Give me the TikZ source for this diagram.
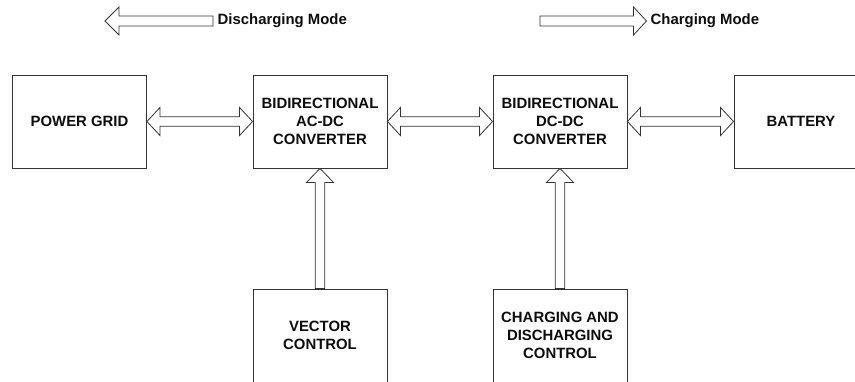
\documentclass[tikz,border=0pt]{standalone}
\usepackage{fontspec}
\setmainfont{Liberation Sans}
\usetikzlibrary{calc}
\tikzset{
  blockbox/.style={draw=black!80, line width=0.9pt, minimum width=134pt, minimum height=93pt, inner sep=0pt, align=center, font=\fontsize{14.9}{17.8}\selectfont\bfseries, text=black!95},
  modelabel/.style={inner sep=2pt, anchor=west, font=\fontsize{14.9}{17}\selectfont\bfseries, text=black!95},
  fatarrow/.style={draw=black!80, line width=0.8pt, fill=white, line join=miter}
}
\newcommand\hdarrow[2]{%
  \draw[fatarrow] (#1) -- ++(13,-14) -- ++(0,9.3) -- ($(#2)+(-13,-4.7)$) -- ++(0,-9.3) -- (#2)
   -- ++(-13,14) -- ++(0,-9.3) -- ($(#1)+(13,4.7)$) -- ++(0,9.3) -- cycle;}
\newcommand\uparrowfat[2]{%
  \draw[fatarrow] (#1) -- ++(13.5,14) -- ++(-8.8,0) -- ($(#2)+(4.7,0)$) -- ++(-9.4,0)
   -- ($(#1)+(-4.7,14)$) -- ++(-8.8,0) -- cycle;}
\begin{document}
\begin{tikzpicture}[x=1pt,y=-1pt]
\useasboundingbox (0,0) rectangle (855,381);
\clip (0,0) rectangle (855,381);
\node[blockbox] (pg) at (79.5,121.5) {POWER GRID};
\node[blockbox] (ac) at (320,121.5) {BIDIRECTIONAL\\AC-DC\\CONVERTER};
\node[blockbox] (dc) at (560,121.5) {BIDIRECTIONAL\\DC-DC\\CONVERTER};
\node[blockbox] (bat) at (801,121.5) {BATTERY};
\node[blockbox] (vc) at (320,335.5) {VECTOR\\CONTROL};
\node[blockbox] (cd) at (560,335.5) {CHARGING AND\\DISCHARGING\\CONTROL};
\hdarrow{pg.east}{ac.west}
\hdarrow{ac.east}{dc.west}
\hdarrow{dc.east}{bat.west}
\uparrowfat{ac.south}{vc.north}
\uparrowfat{dc.south}{cd.north}
\node[modelabel] (dm) at (215.5,21) {Discharging Mode};
\node[modelabel] (cm) at (648.5,21) {Charging Mode};
\coordinate (dtip) at (105,21);
\coordinate (ctail) at (540,21);
\draw[fatarrow] (dtip) -- ++(14,-14) -- ++(0,9) -- ($(dm.west)+(-2.5,-5)$) -- ++(0,10) -- ($(dtip)+(14,5)$) -- ++(0,9) -- cycle;
\draw[fatarrow] ($(cm.west)+(-2,0)$) -- ++(-13,-14) -- ++(0,9) -- ($(ctail)+(0,-5)$) -- ++(0,10) -- ($(cm.west)+(-15,5)$) -- ++(0,9) -- cycle;
\end{tikzpicture}
\end{document}
